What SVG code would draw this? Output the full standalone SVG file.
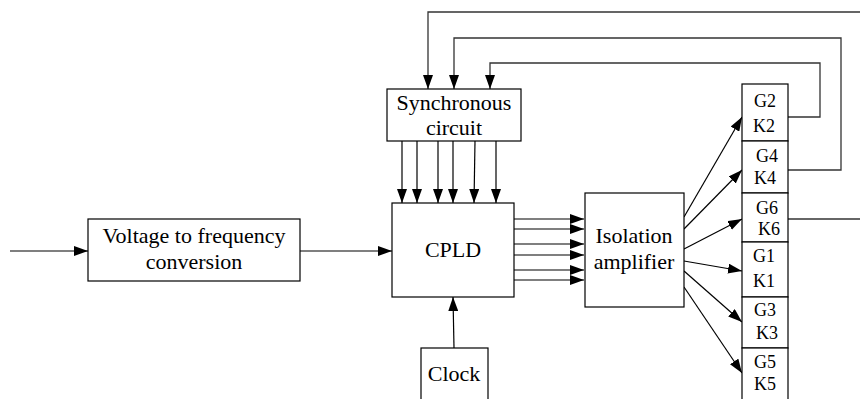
<svg xmlns="http://www.w3.org/2000/svg" width="860" height="399" viewBox="0 0 860 399">
<style>
.box{fill:#fff;stroke:#000;stroke-width:1.2}
.t{font-family:"Liberation Serif","Times New Roman",serif;font-size:22px;fill:#000;text-anchor:middle}
.g{font-family:"Liberation Serif","Times New Roman",serif;font-size:18px;fill:#000;text-anchor:middle}
.c{fill:none;stroke:#000;stroke-width:1.2}
.f{fill:none;stroke:#333;stroke-width:1.3}
</style>
<defs>
<marker id="ah" markerUnits="userSpaceOnUse" markerWidth="14" markerHeight="10" refX="14" refY="5" orient="auto">
<path d="M0,0 L14,5 L0,10 z" fill="#000"/>
</marker>
</defs>
<g id="connectors">
<line class="c" x1="10" y1="251" x2="88" y2="251" marker-end="url(#ah)"/>
<line class="c" x1="300" y1="251" x2="392" y2="251" marker-end="url(#ah)"/>
<polyline class="f" points="860,12 428,12 428,89" marker-end="url(#ah)"/>
<polyline class="f" points="788,170 841,170 841,38 454,38 454,89" marker-end="url(#ah)"/>
<polyline class="f" points="788,117 820,117 820,63 490,63 490,89" marker-end="url(#ah)"/>
<line class="f" x1="788" y1="219" x2="860" y2="219"/>
<line class="c" x1="402" y1="141" x2="402" y2="203" marker-end="url(#ah)"/>
<line class="c" x1="417" y1="141" x2="417" y2="203" marker-end="url(#ah)"/>
<line class="c" x1="438" y1="141" x2="438" y2="203" marker-end="url(#ah)"/>
<line class="c" x1="453" y1="141" x2="453" y2="203" marker-end="url(#ah)"/>
<line class="c" x1="475" y1="141" x2="474" y2="203" marker-end="url(#ah)"/>
<line class="c" x1="496" y1="141" x2="496" y2="203" marker-end="url(#ah)"/>
<line class="c" x1="514" y1="219" x2="584" y2="219" marker-end="url(#ah)"/>
<line class="c" x1="514" y1="229" x2="584" y2="229" marker-end="url(#ah)"/>
<line class="c" x1="514" y1="244" x2="584" y2="244" marker-end="url(#ah)"/>
<line class="c" x1="514" y1="255" x2="584" y2="255" marker-end="url(#ah)"/>
<line class="c" x1="514" y1="270" x2="584" y2="270" marker-end="url(#ah)"/>
<line class="c" x1="514" y1="280" x2="584" y2="280" marker-end="url(#ah)"/>
<line class="c" x1="684" y1="217" x2="742" y2="117" marker-end="url(#ah)"/>
<line class="c" x1="684" y1="229" x2="742" y2="170" marker-end="url(#ah)"/>
<line class="c" x1="684" y1="249" x2="742" y2="219" marker-end="url(#ah)"/>
<line class="c" x1="684" y1="261" x2="742" y2="271" marker-end="url(#ah)"/>
<line class="c" x1="684" y1="271" x2="742" y2="322" marker-end="url(#ah)"/>
<line class="c" x1="684" y1="287" x2="742" y2="373" marker-end="url(#ah)"/>
<line class="c" x1="454" y1="348" x2="453" y2="297" marker-end="url(#ah)"/>
</g>
<g id="vfc">
<rect class="box" x="88" y="219" width="212" height="62"/>
<text class="t" x="194" y="243">Voltage to frequency</text>
<text class="t" x="194" y="269">conversion</text>
</g>
<g id="sync">
<rect class="box" x="387" y="89" width="134" height="52"/>
<text class="t" x="454" y="110">Synchronous</text>
<text class="t" x="454" y="135">circuit</text>
</g>
<g id="cpld">
<rect class="box" x="392" y="203" width="122" height="94"/>
<text class="t" x="453" y="257">CPLD</text>
</g>
<g id="iso">
<rect class="box" x="585" y="193" width="99" height="114"/>
<text class="t" x="634" y="243">Isolation</text>
<text class="t" x="634" y="269">amplifier</text>
</g>
<g id="clock">
<rect class="box" x="421" y="348" width="67" height="60"/>
<text class="t" x="454" y="381">Clock</text>
</g>
<g id="gk2">
<rect class="box" x="742" y="84" width="46" height="57"/>
<text class="g" x="765" y="107">G2</text>
<text class="g" x="764" y="132">K2</text>
</g>
<g id="gk4">
<rect class="box" x="742" y="141" width="46" height="52"/>
<text class="g" x="767" y="162">G4</text>
<text class="g" x="765" y="184">K4</text>
</g>
<g id="gk6">
<rect class="box" x="742" y="193" width="46" height="49"/>
<text class="g" x="767" y="214">G6</text>
<text class="g" x="769" y="235">K6</text>
</g>
<g id="gk1">
<rect class="box" x="742" y="242" width="46" height="55"/>
<text class="g" x="764" y="262">G1</text>
<text class="g" x="764" y="287">K1</text>
</g>
<g id="gk3">
<rect class="box" x="742" y="297" width="46" height="51"/>
<text class="g" x="765" y="316">G3</text>
<text class="g" x="767" y="339">K3</text>
</g>
<g id="gk5">
<rect class="box" x="742" y="348" width="46" height="60"/>
<text class="g" x="765" y="368">G5</text>
<text class="g" x="765" y="390">K5</text>
</g>
</svg>
